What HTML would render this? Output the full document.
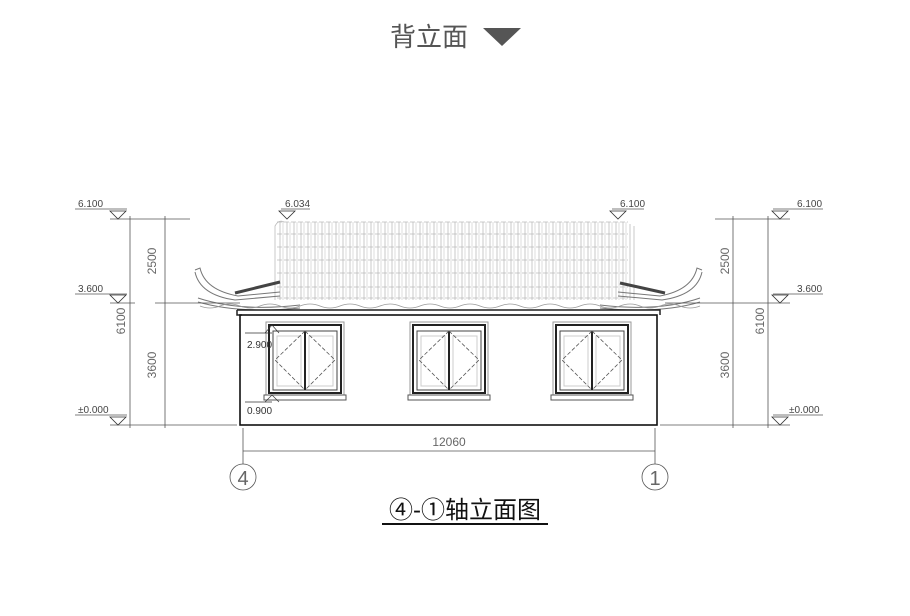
<!DOCTYPE html>
<html><head><meta charset="utf-8"><style>
html,body{margin:0;padding:0;background:#fff;}
svg{display:block;}
text{font-family:"Liberation Sans","Noto Sans CJK SC",sans-serif;}
</style></head><body>
<svg width="910" height="616" viewBox="0 0 910 616" xmlns="http://www.w3.org/2000/svg">
<defs>
<g id="win">
 <rect x="-39" y="0" width="78" height="73" fill="none" stroke="#999" stroke-width="1"/>
 <rect x="-36" y="3" width="72" height="68" fill="none" stroke="#222" stroke-width="2"/>
 <rect x="-32" y="9" width="64" height="59" fill="none" stroke="#444" stroke-width="1"/>
 <rect x="-28" y="14" width="24" height="50" fill="none" stroke="#ccc" stroke-width="1"/>
 <rect x="4" y="14" width="24" height="50" fill="none" stroke="#ccc" stroke-width="1"/>
 <line x1="0" y1="9" x2="0" y2="68" stroke="#222" stroke-width="2"/>
 <path d="M0,9 L-30,38 L0,68 M0,9 L30,38 L0,68" fill="none" stroke="#555" stroke-width="0.8" stroke-dasharray="4,2"/>
 <rect x="-41" y="73" width="82" height="5" fill="#fff" stroke="#555" stroke-width="1"/>
</g>
<g id="tri"><path d="M-8,-8 L8,-8 L0,0 Z" fill="none" stroke="#333" stroke-width="0.8"/></g>
</defs>
<text x="468" y="46" font-size="26" fill="#555" text-anchor="end" font-family="'Noto Sans CJK SC',sans-serif">背立面</text>
<path d="M483,28 L521,28 L502,46 Z" fill="#555"/>

<!-- roof tiles -->
<g stroke="#bbb" stroke-width="0.8" fill="none">
 <path d="M275,300 L275,226 Q279,219 284,222 M630,300 L630,224 M634,300 L634,226"/>
 <path d="M280,222v78M287,222v78M294,222v78M301,222v78M308,222v78M315,222v78M322,222v78M329,222v78M336,222v78M343,222v78M350,222v78M357,222v78M364,222v78M371,222v78M378,222v78M385,222v78M392,222v78M399,222v78M406,222v78M413,222v78M420,222v78M427,222v78M434,222v78M441,222v78M448,222v78M455,222v78M462,222v78M469,222v78M476,222v78M483,222v78M490,222v78M497,222v78M504,222v78M511,222v78M518,222v78M525,222v78M532,222v78M539,222v78M546,222v78M553,222v78M560,222v78M567,222v78M574,222v78M581,222v78M588,222v78M595,222v78M602,222v78M609,222v78M616,222v78M623,222v78"/>
 <path stroke="#d4d4d4" d="M283,222v78M290,222v78M297,222v78M304,222v78M311,222v78M318,222v78M325,222v78M332,222v78M339,222v78M346,222v78M353,222v78M360,222v78M367,222v78M374,222v78M381,222v78M388,222v78M395,222v78M402,222v78M409,222v78M416,222v78M423,222v78M430,222v78M437,222v78M444,222v78M451,222v78M458,222v78M465,222v78M472,222v78M479,222v78M486,222v78M493,222v78M500,222v78M507,222v78M514,222v78M521,222v78M528,222v78M535,222v78M542,222v78M549,222v78M556,222v78M563,222v78M570,222v78M577,222v78M584,222v78M591,222v78M598,222v78M605,222v78M612,222v78M619,222v78M626,222v78"/>
 <path stroke-dasharray="5,2" d="M277,222H628M277,234H628M277,247H628M277,260H628M277,273H628M277,287H628M277,298H628"/>
</g>

<!-- eaves -->
<g stroke="#777" stroke-width="1" fill="none">
 <path d="M195,270 L200,268 Q205,290 238,296 L280,292"/>
 <path d="M195,272 Q200,295 235,300 L280,296"/>
 <path d="M198,298 Q240,312 300,305"/>
 <path d="M198,302 Q240,314 300,308"/>
 <path d="M702,270 L697,268 Q692,290 660,296 L618,292"/>
 <path d="M702,272 Q697,295 662,300 L618,296"/>
 <path d="M700,298 Q660,312 600,305"/>
 <path d="M700,302 Q660,314 600,308"/>
</g>
<path d="M235,293 L280,282" stroke="#444" stroke-width="3"/>
<path d="M620,283 L665,293" stroke="#444" stroke-width="3"/>
<path d="M200,306 Q210,310 220,306 T240,306 T260,306 T280,306 T300,306 T320,306 T340,306 T360,306 T380,306 T400,306 T420,306 T440,306 T460,306 T480,306 T500,306 T520,306 T540,306 T560,306 T580,306 T600,306 T620,306 T640,306 T660,306 T680,306 T700,306" fill="none" stroke="#999" stroke-width="0.8"/>

<!-- building -->
<path d="M237,310 L660,310 L660,315" fill="none" stroke="#222" stroke-width="1.5"/>
<path d="M237,310 L237,315 L242,315" fill="none" stroke="#222" stroke-width="1.5"/>
<rect x="240" y="315" width="417" height="110" fill="none" stroke="#111" stroke-width="1.6"/>
<use href="#win" x="305" y="322"/>
<use href="#win" x="449" y="322"/>
<use href="#win" x="592" y="322"/>

<g stroke="#333" stroke-width="0.7" fill="none">
 <line x1="245" y1="333" x2="272" y2="333"/><path d="M265,333 L272,325 L279,333"/>
 <line x1="245" y1="402" x2="272" y2="402"/><path d="M265,402 L272,395 L279,402"/>
</g>
<text x="247" y="348" font-size="10" fill="#333">2.900</text>
<text x="247" y="414" font-size="10" fill="#333">0.900</text>

<!-- dims -->
<g stroke="#555" stroke-width="0.8" fill="none">
 <line x1="75" y1="209" x2="127" y2="209"/>
 <line x1="75" y1="294" x2="127" y2="294"/>
 <line x1="75" y1="415" x2="127" y2="415"/>
 <line x1="110" y1="219" x2="190" y2="219"/>
 <line x1="110" y1="303" x2="135" y2="303"/><line x1="155" y1="303" x2="240" y2="303"/>
 <line x1="110" y1="425" x2="237" y2="425"/>
 <line x1="130" y1="216" x2="130" y2="428"/>
 <line x1="165" y1="216" x2="165" y2="428"/>
 <line x1="660" y1="425" x2="790" y2="425"/>
 <line x1="665" y1="303" x2="790" y2="303"/>
 <line x1="715" y1="219" x2="790" y2="219"/>
 <line x1="733" y1="216" x2="733" y2="428"/>
 <line x1="768" y1="216" x2="768" y2="428"/>
 <line x1="773" y1="209" x2="823" y2="209"/>
 <line x1="773" y1="294" x2="823" y2="294"/>
 <line x1="773" y1="415" x2="823" y2="415"/>
 <line x1="281" y1="209" x2="310" y2="209"/>
 <line x1="612" y1="209" x2="644" y2="209"/>
 <line x1="243" y1="428" x2="243" y2="464"/>
 <line x1="655" y1="428" x2="655" y2="464"/>
 <line x1="243" y1="451" x2="655" y2="451"/>
 <circle cx="243" cy="477" r="13"/>
 <circle cx="655" cy="477" r="13"/>
</g>
<use href="#tri" x="118" y="219"/><use href="#tri" x="118" y="303"/><use href="#tri" x="118" y="425"/>
<use href="#tri" x="780" y="219"/><use href="#tri" x="780" y="303"/><use href="#tri" x="780" y="425"/>
<use href="#tri" x="287" y="219"/><use href="#tri" x="618" y="219"/>
<g font-size="10" fill="#444">
 <text x="78" y="207">6.100</text><text x="78" y="292">3.600</text><text x="78" y="413">±0.000</text>
 <text x="797" y="207">6.100</text><text x="797" y="292">3.600</text><text x="789" y="413">±0.000</text>
 <text x="285" y="207">6.034</text><text x="620" y="207">6.100</text>
</g>
<g font-size="12" fill="#666" text-anchor="middle">
 <text transform="translate(156,261) rotate(-90)">2500</text>
 <text transform="translate(156,365) rotate(-90)">3600</text>
 <text transform="translate(125,321) rotate(-90)">6100</text>
 <text transform="translate(729,261) rotate(-90)">2500</text>
 <text transform="translate(729,365) rotate(-90)">3600</text>
 <text transform="translate(764,321) rotate(-90)">6100</text>
 <text x="449" y="446">12060</text>
 <text x="243" y="485" font-size="20">4</text>
 <text x="655" y="485" font-size="20">1</text>
</g>
<text x="465" y="518" font-size="24" fill="#111" text-anchor="middle" font-family="'Noto Serif CJK SC','Noto Sans CJK SC',serif">④-①轴立面图</text>
<line x1="382" y1="524" x2="548" y2="524" stroke="#111" stroke-width="2"/>
</svg>
</body></html>
